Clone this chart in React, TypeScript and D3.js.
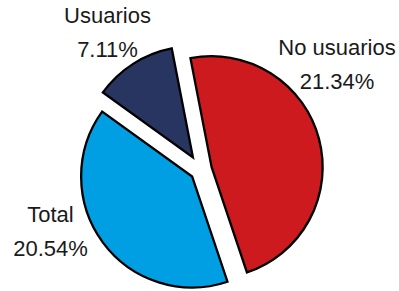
import React from "react";
import * as d3 from "d3";

// Data
const categories = ["No usuarios", "Total", "Usuarios"];
const percentLabels = ["21.34%", "20.54%", "7.11%"];
// slice shares as drawn in the picture (angular share, %)
const sliceShares = [47.9, 40.1, 12.0];
const colors = ["#CD1A1F", "#009FE3", "#283560"];

const W = 399;
const H = 291;
const CX = 201;
const CY = 170;
const R = 111;
const explode = [11, 11, 15];
// label anchors (centre x, first baseline y)
const labelPos: [number, number][] = [
  [337, 55],
  [50.5, 222],
  [107.5, 23],
];

export default function App() {
  const deg = Math.PI / 180;
  const pie = d3
    .pie<number>()
    .sort(null)
    .value((d) => d)
    .startAngle(-11 * deg)
    .endAngle(349 * deg);
  const arcs = pie(sliceShares);
  const arcGen = d3.arc<d3.PieArcDatum<number>>().innerRadius(0).outerRadius(R);

  return (
    <svg
      width={W}
      height={H}
      style={{ position: "absolute", left: 0, top: 0, background: "#fff" }}
    >
      <rect width={W} height={H} fill="#fff" />
      <g transform={`translate(${CX},${CY})`}>
        {arcs.map((a, i) => {
          const mid = (a.startAngle + a.endAngle) / 2;
          const dx = Math.sin(mid) * explode[i];
          const dy = -Math.cos(mid) * explode[i];
          return (
            <path
              key={categories[i]}
              d={arcGen(a) || ""}
              transform={`translate(${dx},${dy})`}
              fill={colors[i]}
              stroke="#000"
              strokeWidth={2.3}
              strokeLinejoin="miter"
            />
          );
        })}
      </g>
      {categories.map((c, i) => (
        <text
          key={c}
          x={labelPos[i][0]}
          y={labelPos[i][1]}
          textAnchor="middle"
          fontFamily="'Liberation Sans', Arial, sans-serif"
          fontSize={22}
          fill="#1a1a1a"
        >
          <tspan x={labelPos[i][0]} y={labelPos[i][1]}>
            {c}
          </tspan>
          <tspan x={labelPos[i][0]} y={labelPos[i][1] + 34}>
            {percentLabels[i]}
          </tspan>
        </text>
      ))}
    </svg>
  );
}
